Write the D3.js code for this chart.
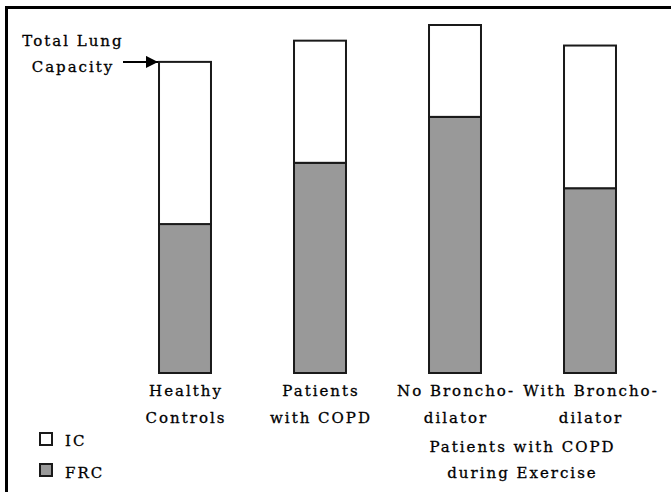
<!DOCTYPE html>
<html>
<head>
<meta charset="utf-8">
<script src="https://cdn.jsdelivr.net/npm/d3@7"></script>
<style>
  html, body { margin: 0; padding: 0; background: #fff; }
  svg { display: block; }
  text { font-family: "DejaVu Serif", "Liberation Serif", serif; font-size: 15px; fill: #000;
         stroke: #000; stroke-width: 0.3px; letter-spacing: 2px; }
</style>
</head>
<body>
<svg id="chart" width="671" height="492"></svg>
<script>
// ---- data (y in % of the tallest bar) ----
const categories = ["Healthy Controls", "Patients with COPD", "No Bronchodilator", "With Bronchodilator"];
const categoryLabels = [["Healthy", "Controls"], ["Patients", "with COPD"], ["No Broncho-", "dilator"], ["With Broncho-", "dilator"]];
const frcValues = [42.8, 60.4, 73.6, 53.1];
const icValues = [46.6, 35.1, 26.4, 41.0];
const seriesNames = ["FRC", "IC"];
const legendNames = ["IC", "FRC"];
const groupLabel = ["Patients with COPD", "during Exercise"];
const annotation = ["Total Lung", "Capacity"];

const colors = { FRC: "#999999", IC: "#ffffff" };

const svg = d3.select("#chart");

// outer frame (only top and left edges fall inside the picture)
svg.append("rect")
  .attr("x", 6.5).attr("y", 7.5).attr("width", 720).attr("height", 600)
  .attr("fill", "none").attr("stroke", "#000").attr("stroke-width", 3);

const x = d3.scaleBand().domain(categories).range([117.5, 657.5])
  .paddingInner(0.615).paddingOuter(0.3075);
const y = d3.scaleLinear().domain([0, 100]).range([373, 25]);

const table = categories.map((c, i) => ({ cat: c, FRC: frcValues[i], IC: icValues[i] }));
const stacked = d3.stack().keys(seriesNames)(table);

svg.append("g").selectAll("g").data(stacked).join("g")
  .attr("fill", d => colors[d.key])
  .selectAll("rect").data(d => d).join("rect")
  .attr("x", d => x(d.data.cat))
  .attr("width", x.bandwidth())
  .attr("y", d => y(d[1]))
  .attr("height", d => y(d[0]) - y(d[1]))
  .attr("stroke", "#1a1a1a").attr("stroke-width", 2);

// category labels
const lab = svg.append("g");
categories.forEach((c, i) => {
  categoryLabels[i].forEach((t, j) => {
    lab.append("text")
      .attr("x", x(c) + x.bandwidth() / 2 + 1)
      .attr("y", 396 + j * 27)
      .attr("text-anchor", "middle")
      .text(t);
  });
});
// group label for the exercise bars
const gx = (x(categories[2]) + x(categories[3]) + x.bandwidth()) / 2;
groupLabel.forEach((t, j) => {
  lab.append("text").attr("x", gx).attr("y", 452 + j * 26)
    .attr("text-anchor", "middle").text(t);
});

// annotation with arrow
svg.append("defs").append("marker")
  .attr("id", "arrow").attr("viewBox", "0 0 10 10")
  .attr("refX", 10).attr("refY", 5)
  .attr("markerWidth", 7).attr("markerHeight", 6)
  .attr("markerUnits", "strokeWidth")
  .attr("orient", "auto")
  .append("path").attr("d", "M0,0 L10,5 L0,10 Z").attr("fill", "#000");

const tlc0 = frcValues[0] + icValues[0];
svg.append("line")
  .attr("x1", 123).attr("x2", x(categories[0]) - 1)
  .attr("y1", y(tlc0)).attr("y2", y(tlc0))
  .attr("stroke", "#000").attr("stroke-width", 2)
  .attr("marker-end", "url(#arrow)");

annotation.forEach((t, j) => {
  svg.append("text").attr("x", 73).attr("y", 46 + j * 26)
    .attr("text-anchor", "middle").text(t);
});

// legend
const leg = svg.append("g");
legendNames.forEach((n, i) => {
  leg.append("rect")
    .attr("x", 40).attr("y", 433 + i * 31)
    .attr("width", 12).attr("height", 12)
    .attr("fill", colors[n]).attr("stroke", "#1a1a1a").attr("stroke-width", 2);
  leg.append("text")
    .attr("x", 65).attr("y", 446 + i * 32)
    .text(n);
});
</script>
</body>
</html>
